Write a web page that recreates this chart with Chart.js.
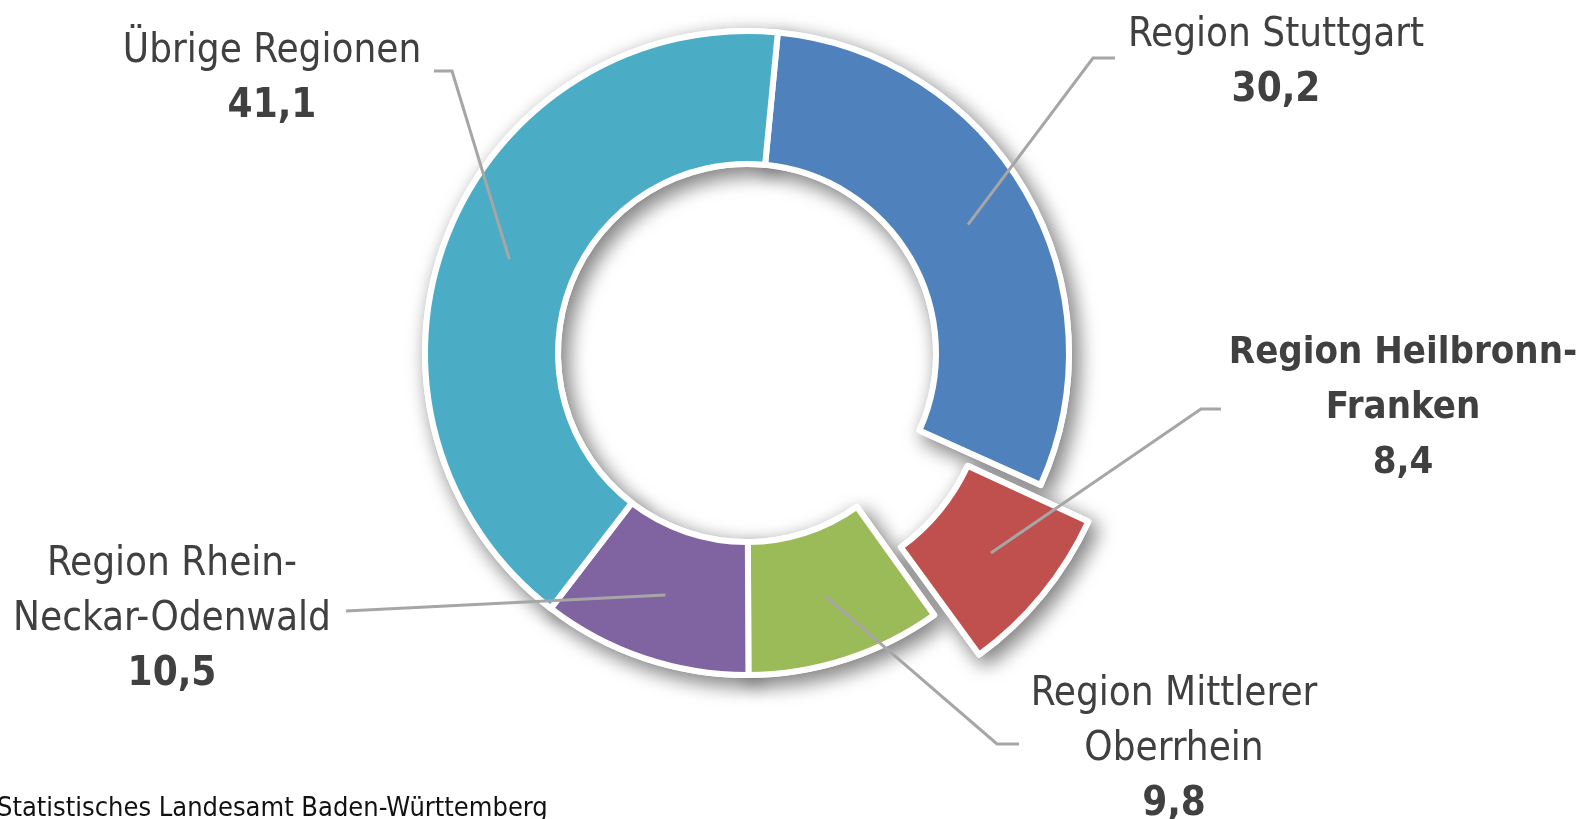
<!DOCTYPE html>
<html>
  <head>
    <meta charset="UTF-8" />
    <title>Anteile der Regionen</title>
    <style>
      body {
        margin: 0;
        padding: 0;
        background-color: #fff;
        overflow: hidden;
      }
      .chart-container {
        width: 1582px;
        height: 819px;
        position: relative;
      }
    </style>
  </head>
  <body>
    <div class="chart-container">
      <canvas id="regionChart"></canvas>
    </div>

    <script src="https://cdn.jsdelivr.net/npm/chart.js"></script>
    <script>
      // Daten (Anteile in %)
      const regions = [
        "Region Stuttgart",
        "Region Heilbronn-Franken",
        "Region Mittlerer Oberrhein",
        "Region Rhein-Neckar-Odenwald",
        "Übrige Regionen",
      ];
      const shares = [30.2, 8.4, 9.8, 10.5, 41.1];
      const labelLines = [
        ["Region Stuttgart"],
        ["Region Heilbronn-", "Franken"],
        ["Region Mittlerer", "Oberrhein"],
        ["Region Rhein-", "Neckar-Odenwald"],
        ["Übrige Regionen"],
      ];
      const colors = ["#4F81BD", "#C0504D", "#9BBB59", "#8064A2", "#4BACC6"];
      const sourceText = "Statistisches Landesamt Baden-Württemberg";

      // Lage der Beschriftungen (Textmitte, Grundlinie erste Zeile) und Knick der Führungslinie
      const callouts = [
        { x: 1276, y: 46, elbow: [1093, 58], end: [1115, 58], bold: false, size: 40 },
        { x: 1403, y: 363, elbow: [1201, 409], end: [1221, 409], bold: true, size: 38 },
        { x: 1174, y: 705, elbow: [997, 744], end: [1019, 744], bold: false, size: 40 },
        { x: 172, y: 575, elbow: null, end: [346, 611], bold: false, size: 40 },
        { x: 272, y: 62, elbow: [452, 71], end: [434, 71], bold: false, size: 40 },
      ];

      const FONT = "'DejaVu Sans Condensed', 'DejaVu Sans', sans-serif";
      const TEXT_COLOR = "#404040";
      const LINE_HEIGHT = 55;

      function formatValue(v) {
        return v.toFixed(1).replace(".", ",");
      }

      // Schatten unter den Segmenten
      const shadowPlugin = {
        id: "shadow",
        beforeDatasetsDraw(chart) {
          const ctx = chart.ctx;
          const meta = chart.getDatasetMeta(0);
          meta.data.forEach((arc) => {
            ctx.save();
            ctx.shadowColor = "rgba(0,0,0,0.5)";
            ctx.shadowBlur = 20;
            ctx.shadowOffsetX = 6;
            ctx.shadowOffsetY = 7;
            arc.draw(ctx);
            ctx.restore();
          });
        },
      };

      // Führungslinien und Beschriftungen
      const calloutPlugin = {
        id: "callouts",
        afterDatasetsDraw(chart) {
          const ctx = chart.ctx;
          const meta = chart.getDatasetMeta(0);
          meta.data.forEach((arc, i) => {
            const { x, y, startAngle, endAngle, innerRadius, outerRadius } = arc.getProps(
              ["x", "y", "startAngle", "endAngle", "innerRadius", "outerRadius"]
            );
            const mid = (startAngle + endAngle) / 2;
            const off = (arc.options.offset || 0) / 4;
            const fix = 1 - Math.sin(Math.min(Math.PI, endAngle - startAngle));
            const r = (innerRadius + outerRadius) / 2 + off + off * fix;
            const ax = x + Math.cos(mid) * r;
            const ay = y + Math.sin(mid) * r;
            const c = callouts[i];

            ctx.save();
            ctx.strokeStyle = "#A6A6A6";
            ctx.lineWidth = 3;
            ctx.beginPath();
            ctx.moveTo(ax, ay);
            if (c.elbow) ctx.lineTo(c.elbow[0], c.elbow[1]);
            ctx.lineTo(c.end[0], c.end[1]);
            ctx.stroke();

            ctx.fillStyle = TEXT_COLOR;
            ctx.textAlign = "center";
            ctx.textBaseline = "alphabetic";
            const lines = labelLines[i];
            ctx.font = (c.bold ? "bold " : "") + c.size + "px " + FONT;
            lines.forEach((line, k) => {
              ctx.fillText(line, c.x, c.y + k * LINE_HEIGHT);
            });
            ctx.font = "bold " + c.size + "px " + FONT;
            ctx.fillText(formatValue(shares[i]), c.x, c.y + lines.length * LINE_HEIGHT);
            ctx.restore();
          });

          ctx.save();
          ctx.fillStyle = "#111";
          ctx.font = "27px " + FONT;
          ctx.textAlign = "left";
          ctx.textBaseline = "alphabetic";
          ctx.fillText(sourceText, -3, 816);
          ctx.restore();
        },
      };

      new Chart(document.getElementById("regionChart"), {
        type: "doughnut",
        data: {
          labels: regions,
          datasets: [
            {
              data: shares,
              backgroundColor: colors,
              borderColor: "#ffffff",
              borderWidth: 6,
              borderJoinStyle: "round",
              offset: [0, 160, 0, 0, 0],
            },
          ],
        },
        options: {
          responsive: true,
          maintainAspectRatio: false,
          animation: false,
          rotation: 5.5,
          radius: 322,
          cutout: "58.7%",
          layout: {
            padding: { left: 0, right: 88, top: 0, bottom: 113 },
          },
          plugins: {
            legend: { display: false },
            tooltip: { enabled: false },
          },
          events: [],
        },
        plugins: [shadowPlugin, calloutPlugin],
      });
    </script>
  </body>
</html>
